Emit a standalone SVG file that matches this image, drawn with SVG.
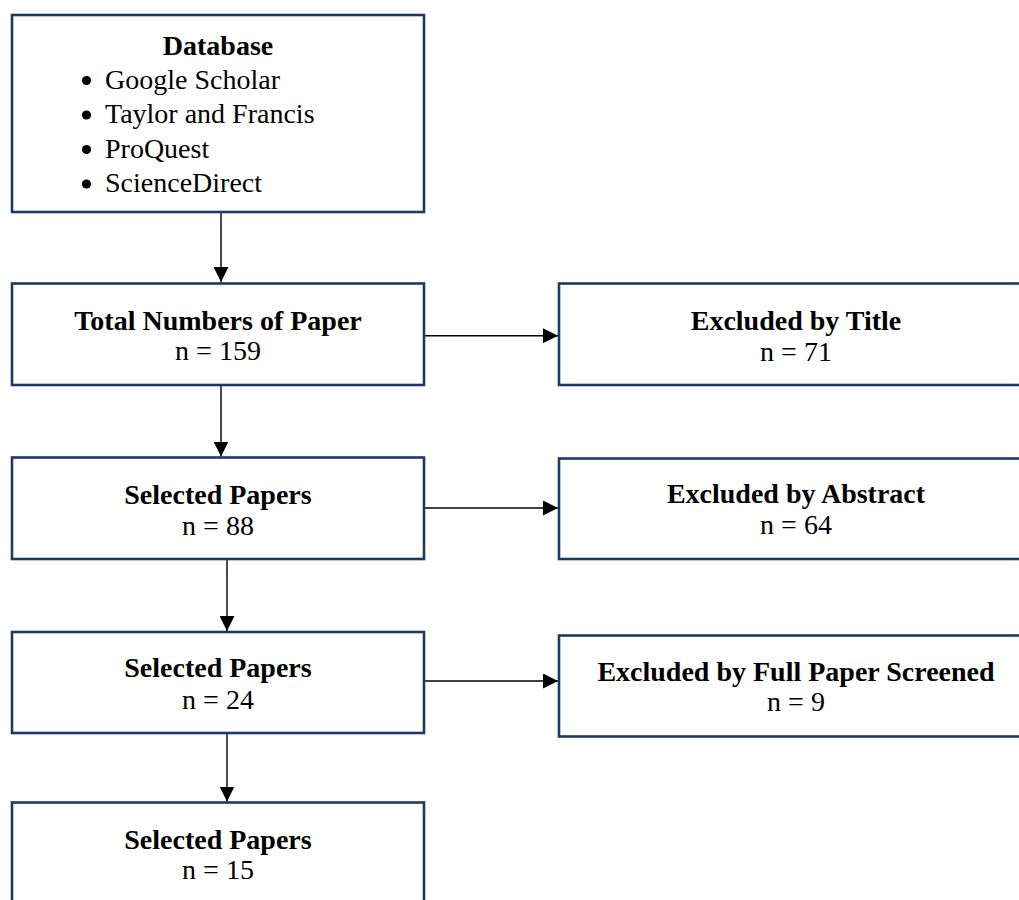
<svg xmlns="http://www.w3.org/2000/svg" width="1019" height="900" viewBox="0 0 1019 900">
  <style>
    .box { fill: #ffffff; stroke: #1f3864; stroke-width: 2.6; }
    .t { font-family: "Liberation Serif", "Times New Roman", serif; font-size: 28px; fill: #000000; }
    .b { font-weight: bold; }
    .c { text-anchor: middle; }
    .dot { fill: #000000; }
    .conn { stroke: #000000; stroke-width: 1.4; fill: none; marker-end: url(#arrow); }
  </style>
  <defs>
    <marker id="arrow" markerUnits="userSpaceOnUse" markerWidth="15" markerHeight="15" refX="15" refY="7.5" orient="auto" viewBox="0 0 15 15">
      <path d="M0,0 L15,7.5 L0,15 z" fill="#000000"/>
    </marker>
  </defs>
  <rect width="1019" height="900" fill="#ffffff"/>

  <g id="connectors">
    <line class="conn" x1="221" y1="212" x2="221" y2="282"/>
    <line class="conn" x1="221" y1="385" x2="221" y2="456.5"/>
    <line class="conn" x1="227" y1="559" x2="227" y2="631"/>
    <line class="conn" x1="227" y1="733" x2="227" y2="801.5"/>
    <line class="conn" x1="424" y1="335.7" x2="558" y2="335.7"/>
    <line class="conn" x1="424" y1="508" x2="558" y2="508"/>
    <line class="conn" x1="424" y1="681" x2="558" y2="681"/>
  </g>

  <g id="database">
    <rect class="box" x="12" y="15" width="412" height="197"/>
    <text class="t b c" x="218" y="55">Database</text>
    <circle class="dot" cx="86.5" cy="80.5" r="4.6"/>
    <text class="t" x="105" y="88.5">Google Scholar</text>
    <circle class="dot" cx="86.5" cy="115" r="4.6"/>
    <text class="t" x="105" y="123">Taylor and Francis</text>
    <circle class="dot" cx="86.5" cy="149.5" r="4.6"/>
    <text class="t" x="105" y="157.5">ProQuest</text>
    <circle class="dot" cx="86.5" cy="184" r="4.6"/>
    <text class="t" x="105" y="192">ScienceDirect</text>
  </g>

  <g id="total">
    <rect class="box" x="12" y="283.5" width="412" height="101.5"/>
    <text class="t b c" x="218" y="329.5">Total Numbers of Paper</text>
    <text class="t c" x="218" y="360">n = 159</text>
  </g>

  <g id="excluded-title">
    <rect class="box" x="559" y="283.5" width="474" height="101.5"/>
    <text class="t b c" x="796" y="329.5">Excluded by Title</text>
    <text class="t c" x="796" y="360.5">n = 71</text>
  </g>

  <g id="selected-88">
    <rect class="box" x="12" y="457.5" width="412" height="101.5"/>
    <text class="t b c" x="218" y="503.5">Selected Papers</text>
    <text class="t c" x="218" y="534.5">n = 88</text>
  </g>

  <g id="excluded-abstract">
    <rect class="box" x="559" y="458.5" width="474" height="100.5"/>
    <text class="t b c" x="796" y="503">Excluded by Abstract</text>
    <text class="t c" x="796" y="534">n = 64</text>
  </g>

  <g id="selected-24">
    <rect class="box" x="12" y="632" width="412" height="101"/>
    <text class="t b c" x="218" y="677">Selected Papers</text>
    <text class="t c" x="218" y="709">n = 24</text>
  </g>

  <g id="excluded-full">
    <rect class="box" x="559" y="635.5" width="474" height="101"/>
    <text class="t b c" x="796" y="681">Excluded by Full Paper Screened</text>
    <text class="t c" x="796" y="711">n = 9</text>
  </g>

  <g id="selected-15">
    <rect class="box" x="12" y="802.5" width="412" height="102"/>
    <text class="t b c" x="218" y="848.5">Selected Papers</text>
    <text class="t c" x="218" y="878.5">n = 15</text>
  </g>
</svg>
